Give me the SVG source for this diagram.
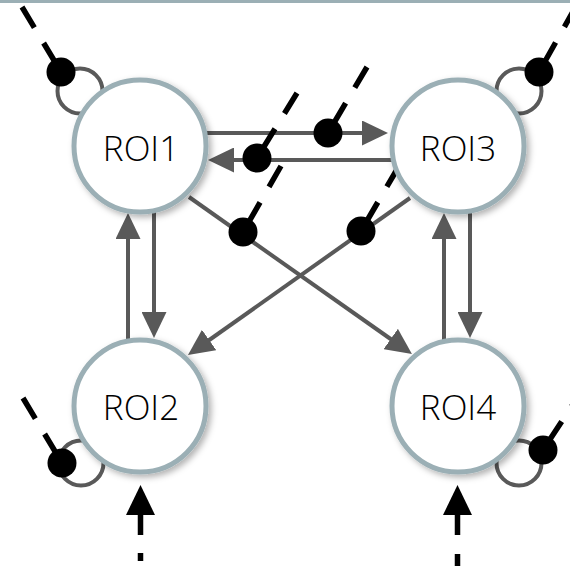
<svg xmlns="http://www.w3.org/2000/svg" width="570" height="567" viewBox="0 0 570 567">
  <style>
    .edge { fill: none; stroke: #595959; stroke-width: 4; marker-end: url(#ah); }
    .loop { fill: none; stroke: #595959; stroke-width: 4; }
    .mod { fill: none; stroke: #000; stroke-width: 5.5; stroke-dasharray: 24 18 100; }
    .dot { fill: #000; }
    .node circle { fill: #fff; stroke: #9bafb5; stroke-width: 5; filter: url(#shadow); }
    .node text { font-family: "Open Sans", "Liberation Sans", sans-serif; font-weight: 300; font-size: 35px; fill: #000; text-anchor: middle; }
    .input { fill: none; stroke: #000; stroke-width: 5.5; }
  </style>
  <defs>
    <marker id="ah" markerUnits="userSpaceOnUse" markerWidth="26" markerHeight="25" refX="6" refY="12.5" orient="auto" viewBox="0 0 26 25">
      <path d="M0,0 L26,12.5 L0,25 z" fill="#595959"/>
    </marker>
    <filter id="shadow" x="-20%" y="-20%" width="150%" height="150%">
      <feDropShadow dx="3" dy="3" stdDeviation="3" flood-color="#000" flood-opacity="0.3"/>
    </filter>
  </defs>

  <rect x="0" y="0" width="570" height="3" fill="#9bafb5"/>

  <!-- connections between regions -->
  <g id="connectors">
    <path class="edge" d="M200,133 L368,133"/>
    <path class="edge" d="M400,160 L228,160"/>
    <path class="edge" d="M154,200 L154,318"/>
    <path class="edge" d="M128,350 L128,233"/>
    <path class="edge" d="M470,200 L470,318"/>
    <path class="edge" d="M444,350 L444,233"/>
    <path class="edge" d="M189,197 L395.6,342.5"/>
    <path class="edge" d="M410,198 L204.3,343.5"/>

    <!-- self connections -->
    <circle class="loop" cx="80" cy="91" r="22.5"/>
    <circle class="loop" cx="519" cy="91" r="22.5"/>
    <circle class="loop" cx="81" cy="463" r="22.5"/>
    <circle class="loop" cx="519" cy="463" r="22.5"/>

    <!-- modulatory inputs -->
    <path class="mod" d="M22,7 L61,72"/>
    <path class="mod" d="M576.2,5.9 L539,72"/>
    <path class="mod" d="M23,398 L62,463"/>
    <path class="mod" d="M584.8,386.5 L543,450"/>
    <path class="mod" d="M367,67 L328,133"/>
    <path class="mod" d="M297,93 L257,158"/>
    <path class="mod" d="M281,166 L243,232"/>
    <path class="mod" d="M399,166 L361,231"/>
    <circle class="dot" cx="61" cy="72" r="14.5"/>
    <circle class="dot" cx="539" cy="72" r="14.5"/>
    <circle class="dot" cx="62" cy="463" r="14.5"/>
    <circle class="dot" cx="543" cy="450" r="14.5"/>
    <circle class="dot" cx="328" cy="133" r="14.5"/>
    <circle class="dot" cx="257" cy="158" r="14.5"/>
    <circle class="dot" cx="243" cy="232" r="14.5"/>
    <circle class="dot" cx="361" cy="231" r="14.5"/>

    <!-- driving inputs -->
    <path class="input" d="M140.5,561 L140.5,512" stroke-dasharray="8 18 100"/>
    <polygon points="140.5,485 126,515 155,515" fill="#000"/>
    <path class="input" d="M457.5,566 L457.5,512" stroke-dasharray="12 19 100"/>
    <polygon points="457.5,485 443,515 472,515" fill="#000"/>
  </g>

  <g id="roi1" class="node">
    <circle cx="140" cy="146" r="66"/>
    <text x="141" y="161">ROI1</text>
  </g>
  <g id="roi3" class="node">
    <circle cx="458" cy="146" r="66"/>
    <text x="458" y="161">ROI3</text>
  </g>
  <g id="roi2" class="node">
    <circle cx="140" cy="406" r="66"/>
    <text x="141" y="420">ROI2</text>
  </g>
  <g id="roi4" class="node">
    <circle cx="458" cy="406" r="66"/>
    <text x="458" y="420">ROI4</text>
  </g>
</svg>
